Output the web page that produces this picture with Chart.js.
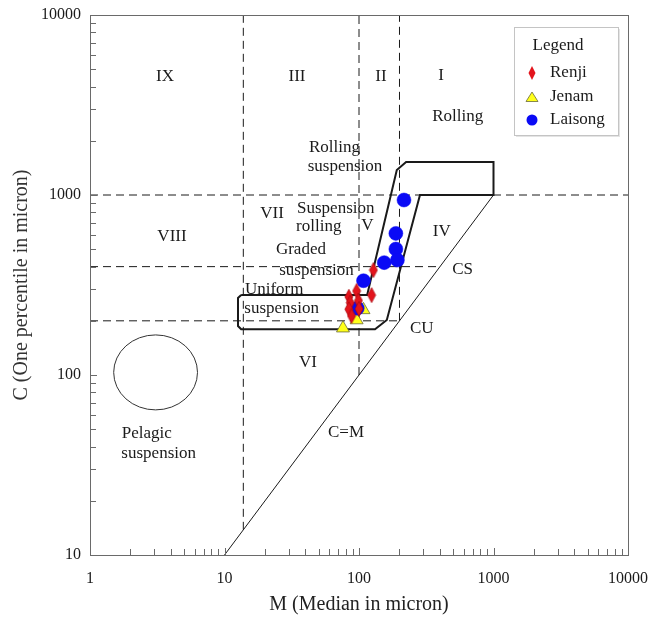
<!DOCTYPE html>
<html><head><meta charset="utf-8">
<script src="https://cdn.jsdelivr.net/npm/chart.js@4.4.1/dist/chart.umd.min.js"></script>
<style>html,body{margin:0;padding:0;background:#fff;}#wrap{width:651px;height:622px;}</style>
</head><body><div id="wrap"><canvas id="c" width="651" height="622"></canvas></div>
<script>
// ---- data ----
const xTickLabels = [1, 10, 100, 1000, 10000];
const yTickLabels = [10, 100, 1000, 10000];
const seriesNames = ['Renji', 'Jenam', 'Laisong'];
const renjiM = [128, 124, 96, 84, 86, 99, 84, 88, 100];
const renjiC = [383, 278, 293, 272, 252, 259, 232, 213, 233];
const jenamM = [76, 96, 108];
const jenamC = [182, 202, 230];
const laisongM = [216, 188, 188, 193, 154, 108, 97];
const laisongC = [938, 612, 501, 435, 421, 334, 235];

// diagram boundaries (data units)
const envelopeM = [13.3, 115, 191, 224, 1000, 1000, 284, 161, 131.5, 13.3, 12.6, 12.6, 13.3];
const envelopeC = [278, 278, 1376, 1525, 1525, 1000, 1000, 202, 179.5, 179.5, 187, 268, 278];
const vDashM = [13.8, 100, 200];
const vDashFromC = [13.8, 100, 200];
const hDashC = [1000, 400, 200];
const hDashToM = [10000, 400, 200];
const cmLineM = [10, 1000];
const pelagicM = [1.5, 6.3];
const pelagicC = [64, 167];

const regionText = ['IX','III','II','I','Rolling','Rolling','suspension','Suspension','rolling','V','IV',
  'Graded','suspension','CS','Uniform','suspension','CU','VI','VII','VIII','C=M','Pelagic','suspension'];
const regionM = [3.61, 34.6, 145.7, 407, 542, 65.7, 78.7, 67.2, 50.2, 115.3, 412,
  37.0, 48.3, 590, 23.4, 26.6, 292.6, 41.8, 22.6, 4.07, 80.1, 2.64, 3.24];
const regionC = [4524, 4524, 4524, 4581, 2723, 1841, 1436, 843, 667, 681, 625,
  495, 379, 383, 299, 235, 182, 116.6, 794, 591, 48.2, 47.4, 36.7];

// ---- helpers ----
const FONT = "'Liberation Serif','Times New Roman',serif";
const zip = (a, b) => a.map((v, i) => ({x: v, y: b[i]}));
function tickVals(lo, hi) {
  const out = [];
  for (let d = lo; d < hi; d *= 10) for (let k = 1; k <= 9; k++) out.push(k * d);
  out.push(hi);
  return out;
}
function makeDiamond(w, h, fill, stroke) {
  const c = document.createElement('canvas');
  c.width = w + 2; c.height = h + 2;
  const g = c.getContext('2d');
  g.beginPath();
  g.moveTo(c.width / 2, 1); g.lineTo(w + 1, c.height / 2);
  g.lineTo(c.width / 2, h + 1); g.lineTo(1, c.height / 2); g.closePath();
  g.fillStyle = fill; g.fill();
  g.strokeStyle = stroke; g.lineWidth = 0.7; g.stroke();
  return c;
}
const RED = '#e3141c', YEL = '#ffff1a', BLUE = '#0a0af5';
const diamondImg = makeDiamond(8, 15, RED, '#a8080e');

const lineDs = (pts, dash, width) => ({
  type: 'scatter', data: pts, showLine: true, borderColor: '#1a1a1a',
  borderWidth: width, borderDash: dash, pointRadius: 0, pointHoverRadius: 0,
  fill: false, order: 5, tension: 0, borderJoinStyle: 'miter'
});

const datasets = [];
vDashM.forEach((m, i) => datasets.push(lineDs([{x: m, y: vDashFromC[i]}, {x: m, y: 10000}], [8, 5], 1)));
hDashC.forEach((c, i) => datasets.push(lineDs([{x: 1, y: c}, {x: hDashToM[i], y: c}], [8, 5], 1)));
datasets.push(lineDs(zip(cmLineM, cmLineM), [], 1));
datasets.push(lineDs(zip(envelopeM, envelopeC), [], 2));
datasets.push({label: seriesNames[2], type: 'scatter', data: zip(laisongM, laisongC), pointStyle: 'circle',
  pointRadius: 7, backgroundColor: BLUE, borderColor: BLUE, borderWidth: 0.5, order: 1});
datasets.push({label: seriesNames[1], type: 'scatter', data: zip(jenamM, jenamC), pointStyle: 'triangle',
  pointRadius: 7.5, backgroundColor: YEL, borderColor: '#6a6a3a', borderWidth: 0.8, order: 2});
datasets.push({label: seriesNames[0], type: 'scatter', data: zip(renjiM, renjiC), pointStyle: diamondImg,
  pointRadius: 7, backgroundColor: RED, borderColor: RED, order: 0});

// ---- plugins ----
const annotations = {
  id: 'annotations',
  beforeDatasetsDraw(chart) {
    const {ctx, scales: {x, y}} = chart;
    ctx.save();
    const x1 = x.getPixelForValue(pelagicM[0]), x2 = x.getPixelForValue(pelagicM[1]);
    const y1 = y.getPixelForValue(pelagicC[1]), y2 = y.getPixelForValue(pelagicC[0]);
    ctx.beginPath();
    ctx.ellipse((x1 + x2) / 2, (y1 + y2) / 2, (x2 - x1) / 2, (y2 - y1) / 2, 0, 0, Math.PI * 2);
    ctx.strokeStyle = '#333'; ctx.lineWidth = 1; ctx.stroke();
    ctx.fillStyle = '#1a1a1a';
    ctx.font = '17px ' + FONT;
    ctx.textAlign = 'center'; ctx.textBaseline = 'middle';
    regionText.forEach((t, i) => {
      ctx.fillText(t, x.getPixelForValue(regionM[i]), y.getPixelForValue(regionC[i]));
    });
    ctx.restore();
  }
};

const frame = {
  id: 'frame',
  afterDraw(chart) {
    const {ctx, chartArea: a, scales: {x, y}} = chart;
    ctx.save();
    ctx.strokeStyle = '#6a6a6a'; ctx.lineWidth = 1;
    ctx.strokeRect(Math.round(a.left) + 0.5, Math.round(a.top) + 0.5,
      Math.round(a.right - a.left), Math.round(a.bottom - a.top));
    ctx.beginPath();
    x.ticks.forEach(t => {
      const px = Math.round(x.getPixelForValue(t.value)) + 0.5;
      const len = xTickLabels.includes(t.value) ? 7 : 6;
      ctx.moveTo(px, a.bottom); ctx.lineTo(px, a.bottom - len);
    });
    y.ticks.forEach(t => {
      const py = Math.round(y.getPixelForValue(t.value)) + 0.5;
      const len = yTickLabels.includes(t.value) ? 7 : 6;
      ctx.moveTo(a.left, py); ctx.lineTo(a.left + len, py);
    });
    ctx.stroke();

    // legend
    const bx = 514, by = 27, bw = 104, bh = 108;
    ctx.fillStyle = '#e4e4e4';
    ctx.fillRect(bx + 2, by + 2, bw, bh);
    ctx.fillStyle = '#fff';
    ctx.fillRect(bx, by, bw, bh);
    ctx.strokeStyle = '#c4c4c4';
    ctx.strokeRect(bx + 0.5, by + 0.5, bw, bh);
    ctx.fillStyle = '#1a1a1a';
    ctx.font = '17px ' + FONT;
    ctx.textBaseline = 'middle';
    ctx.textAlign = 'center';
    ctx.fillText('Legend', bx + 44, by + 19);
    ctx.textAlign = 'left';
    const rows = [by + 46, by + 70, by + 93];
    const mx = bx + 18;
    ctx.beginPath();
    ctx.moveTo(mx, rows[0] - 7); ctx.lineTo(mx + 3.5, rows[0]); ctx.lineTo(mx, rows[0] + 7); ctx.lineTo(mx - 3.5, rows[0]);
    ctx.closePath(); ctx.fillStyle = RED; ctx.fill();
    ctx.beginPath();
    ctx.moveTo(mx, rows[1] - 5); ctx.lineTo(mx + 6, rows[1] + 4.5); ctx.lineTo(mx - 6, rows[1] + 4.5);
    ctx.closePath(); ctx.fillStyle = YEL; ctx.fill(); ctx.strokeStyle = '#6a6a3a'; ctx.lineWidth = 0.8; ctx.stroke();
    ctx.beginPath(); ctx.arc(mx, rows[2], 5.5, 0, Math.PI * 2); ctx.fillStyle = BLUE; ctx.fill();
    ctx.fillStyle = '#1a1a1a';
    seriesNames.forEach((n, i) => ctx.fillText(n, bx + 36, rows[i]));
    ctx.restore();
  }
};

new Chart(document.getElementById('c'), {
  type: 'scatter',
  data: {datasets},
  options: {
    responsive: false, animation: false, devicePixelRatio: 1,
    layout: {padding: {left: 0, right: 23, top: 15, bottom: 0}},
    plugins: {legend: {display: false}, tooltip: {enabled: false}},
    scales: {
      x: {
        type: 'logarithmic', min: 1, max: 10000, position: 'bottom',
        grid: {display: false, drawTicks: false}, border: {display: false},
        afterBuildTicks: s => { s.ticks = tickVals(1, 10000).map(v => ({value: v, major: xTickLabels.includes(v)})); },
        afterFit: s => { s.height = 67; s.paddingLeft = 0; s.paddingRight = 0; },
        ticks: {autoSkip: false, maxRotation: 0, padding: 14, color: '#1a1a1a', font: {family: FONT, size: 16},
          callback: v => xTickLabels.includes(v) ? String(v) : ''},
        title: {display: true, text: 'M (Median in micron)', color: '#222', font: {family: FONT, size: 20},
          padding: {top: 0, bottom: 5}}
      },
      y: {
        type: 'logarithmic', min: 10, max: 10000, position: 'left',
        grid: {display: false, drawTicks: false}, border: {display: false},
        afterBuildTicks: s => { s.ticks = tickVals(10, 10000).map(v => ({value: v, major: yTickLabels.includes(v)})); },
        afterFit: s => { s.width = 90; s.paddingTop = 0; s.paddingBottom = 0; },
        ticks: {autoSkip: false, padding: 9, color: '#1a1a1a', font: {family: FONT, size: 16},
          callback: v => yTickLabels.includes(v) ? String(v) : ''},
        title: {display: true, text: 'C (One percentile in micron)', color: '#333', font: {family: FONT, size: 20},
          padding: {top: 10, bottom: 0}}
      }
    }
  },
  plugins: [annotations, frame]
});
</script>
</body></html>
